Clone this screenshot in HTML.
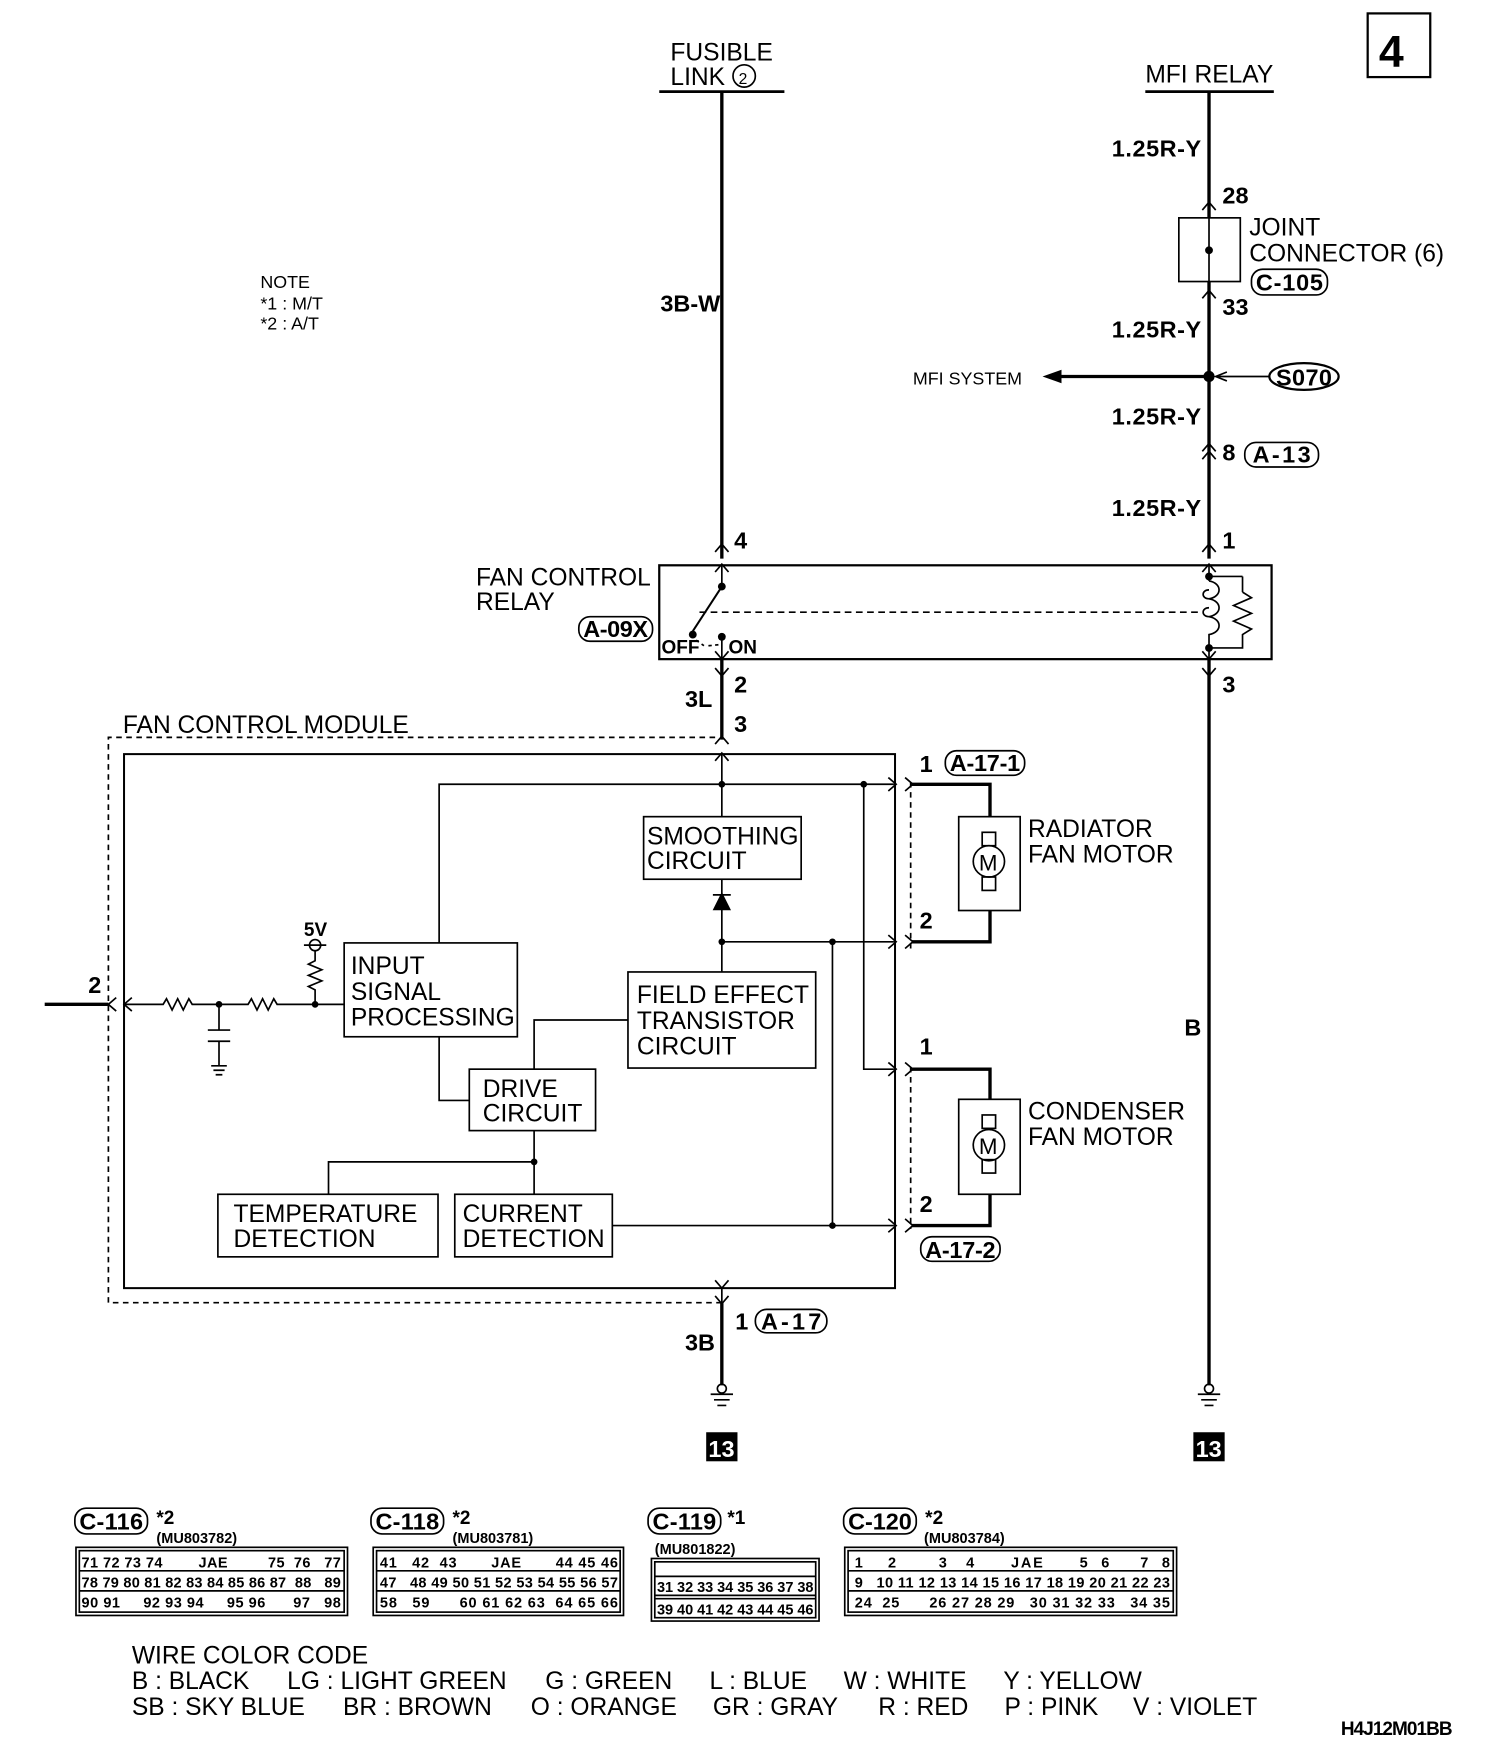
<!DOCTYPE html>
<html><head><meta charset="utf-8"><style>
html,body{margin:0;padding:0;background:#fff}
svg{display:block}
text{font-family:"Liberation Sans",sans-serif;fill:#000}
.c{font-weight:bold}
.p text{white-space:pre}
</style></head><body>
<svg width="1504" height="1754" viewBox="0 0 1346 1570" preserveAspectRatio="none" xmlns="http://www.w3.org/2000/svg">
<g fill="none" stroke="#000" stroke-width="1.5">
<rect x="1224" y="12" width="56" height="57" stroke-width="2"/>
<line x1="590" y1="82" x2="702" y2="82" stroke-width="2.5"/>
<line x1="646" y1="82" x2="646" y2="500" stroke-width="3"/>
<circle cx="666" cy="68" r="10"/>
<line x1="1025" y1="82" x2="1140" y2="82" stroke-width="2.5"/>
<line x1="1082" y1="82" x2="1082" y2="195" stroke-width="3"/>
<line x1="1082" y1="252" x2="1082" y2="500" stroke-width="3"/>
<rect x="1055" y="195" width="55" height="57"/>
<line x1="1082" y1="195" x2="1082" y2="252"/>
<rect x="1120" y="241" width="68" height="23" rx="10"/>
<line x1="940" y1="337" x2="1082" y2="337" stroke-width="3"/>
<ellipse cx="1167" cy="337" rx="31" ry="12" stroke-width="2"/>
<line x1="1136" y1="337" x2="1090" y2="337"/>
<path d="M1098 333 L1088 337 L1098 341"/>
<rect x="1114" y="396" width="66" height="22" rx="10"/>
<path d="M1076 188 L1082 181 L1088 188 M1076 267 L1082 260 L1088 267 M1076 404 L1082 397 L1088 404 M1076 411 L1082 404 L1088 411 M1076 494 L1082 487 L1088 494 M1076 512 L1082 505 L1088 512"/>
<path d="M640 494 L646 487 L652 494 M640 512 L646 505 L652 512"/>
<rect x="590" y="506" width="548" height="84" stroke-width="2"/>
<rect x="518" y="552" width="66" height="22" rx="10"/>
<line x1="646" y1="506" x2="646" y2="525"/>
<line x1="646" y1="525" x2="620" y2="565" stroke-width="1.8"/>
<line x1="626" y1="548" x2="1075" y2="548" stroke-dasharray="6,4"/>
<path d="M623 573 L630 578 M634 578 L644 577" stroke-dasharray="3,3"/>
<path d="M640 583 L646 590 L652 583 M640 598 L646 605 L652 598 M640 666 L646 659 L652 666"/>
<line x1="646" y1="570" x2="646" y2="590"/>
<line x1="646" y1="590" x2="646" y2="662" stroke-width="3"/>
<line x1="1082" y1="506" x2="1082" y2="520"/>
<line x1="1082" y1="516" x2="1112" y2="516"/><line x1="1112" y1="516" x2="1112" y2="530"/>
<path d="M1112 530 L1120 535 L1104 542 L1120 549 L1104 556 L1120 563 L1112 568 L1112 580 L1082 580"/>
<path d="M1082 520 C1094 522 1094 534 1082 536 C1075 536 1075 528 1082 528 M1082 536 C1094 538 1094 550 1082 552 C1075 552 1075 544 1082 544 M1082 552 C1094 554 1094 566 1082 568 L1082 590"/>
<path d="M1076 583 L1082 590 L1088 583 M1076 598 L1082 605 L1088 598"/>
<line x1="1082" y1="590" x2="1082" y2="1240" stroke-width="3"/>
<path d="M97 1166 L97 660 L640 660 M646 1166 L97 1166 M815 700 L815 850 M815 955 L815 1100" stroke-dasharray="5,4"/>
<rect x="111" y="675" width="690" height="478" stroke-width="1.8"/>
<rect x="576" y="731" width="141" height="56"/>
<rect x="562" y="870" width="168" height="86"/>
<rect x="308" y="844" width="155" height="84"/>
<rect x="420" y="957" width="113" height="55"/>
<rect x="195" y="1069" width="197" height="56"/>
<rect x="407" y="1069" width="141" height="56"/>
<line x1="646" y1="675" x2="646" y2="731"/>
<path d="M393 844 L393 702 L800 702"/>
<path d="M773 702 L773 957 L800 957"/>
<line x1="646" y1="787" x2="646" y2="870"/>
<path d="M646 800 L639 814 L653 814 Z M638 801 L654 801" fill="#000"/>
<path d="M646 843 L800 843"/>
<path d="M745 843 L745 1097"/>
<path d="M548 1097 L800 1097"/>
<path d="M562 913 L478 913 L478 957"/>
<path d="M393 928 L393 985 L420 985"/>
<path d="M478 1012 L478 1069 M478 1040 L294 1040 L294 1069"/>
<path d="M640 681 L646 674 L652 681 M795 696 L802 702 L795 708 M795 837 L802 843 L795 849 M795 951 L802 957 L795 963 M795 1091 L802 1097 L795 1103 M810 696 L817 702 L810 708 M810 837 L817 843 L810 849 M810 951 L817 957 L810 963 M810 1091 L817 1097 L810 1103"/>
<line x1="646" y1="1153" x2="646" y2="1166" />
<path d="M640 1146 L646 1153 L652 1146 M640 1160 L646 1167 L652 1160"/>
<line x1="646" y1="1166" x2="646" y2="1240" stroke-width="3"/>
<rect x="676" y="1172" width="64" height="21" rx="10"/>
<line x1="40" y1="899" x2="97" y2="899" stroke-width="3"/>
<path d="M104 893 L97 899 L104 905 M118 893 L111 899 L118 905"/>
<path d="M111 899 L146 899 L149 894 L154 904 L159 894 L164 904 L169 894 L172 899 L222 899 L225 894 L230 904 L235 894 L240 904 L245 894 L248 899 L308 899"/>
<path d="M196 899 L196 922 M186 922 L206 922 M186 932 L206 932 M196 932 L196 954 M189 954 L203 954 M191 958 L201 958 M193 962 L199 962"/>
<circle cx="282" cy="846" r="5"/>
<path d="M272 846 L292 846 M282 851 L282 860 L276 863 L288 868 L276 873 L288 878 L276 883 L282 886 L282 899"/>
<path d="M816 702 L886 702 L886 731 M886 815 L886 843 L816 843" stroke-width="3"/>
<rect x="858" y="731" width="55" height="84"/>
<rect x="879" y="745" width="12" height="12"/><rect x="879" y="785" width="12" height="12"/>
<circle cx="885" cy="771" r="14"/>
<rect x="846" y="672" width="71" height="22" rx="10"/>
<path d="M816 957 L886 957 L886 984 M886 1069 L886 1097 L816 1097" stroke-width="3"/>
<rect x="858" y="984" width="55" height="85"/>
<rect x="879" y="998" width="12" height="12"/><rect x="879" y="1038" width="12" height="12"/>
<circle cx="885" cy="1025" r="14"/>
<rect x="824" y="1107" width="71" height="22" rx="10"/>
<path d="M636 1248 L656 1248 M639 1253 L653 1253 M642 1258 L650 1258 M1072 1248 L1092 1248 M1075 1253 L1089 1253 M1078 1258 L1086 1258"/>
<circle cx="646" cy="1243" r="4"/><circle cx="1082" cy="1243" r="4"/>
<rect x="67" y="1350" width="65" height="23" rx="10"/>
<rect x="332" y="1350" width="65" height="23" rx="10"/>
<rect x="580" y="1350" width="65" height="23" rx="10"/>
<rect x="755" y="1350" width="65" height="23" rx="10"/>
<rect x="68" y="1385" width="243" height="61"/><rect x="71" y="1388" width="237" height="55"/>
<rect x="334" y="1385" width="224" height="61"/><rect x="337" y="1388" width="218" height="55"/>
<rect x="583" y="1395" width="150" height="56"/><rect x="586" y="1398" width="144" height="50"/>
<rect x="756" y="1385" width="297" height="61"/><rect x="759" y="1388" width="291" height="55"/>
<path d="M71 1406 L308 1406 M71 1424 L308 1424 M337 1406 L555 1406 M337 1424 L555 1424 M759 1406 L1050 1406 M759 1424 L1050 1424 M586 1411 L730 1411 M586 1428 L730 1428 M586 1431 L730 1431"/>
</g>
<g fill="#000">
<circle cx="1082" cy="224" r="3.5"/><circle cx="1082" cy="337" r="5"/>
<path d="M933 337 L950 331 L950 343 Z"/>
<circle cx="646" cy="525" r="3.5"/><circle cx="620" cy="568" r="3.5"/><circle cx="646" cy="570" r="3.5"/>
<circle cx="1082" cy="516" r="3.5"/><circle cx="1082" cy="580" r="3.5"/>
<circle cx="646" cy="702" r="3"/><circle cx="773" cy="702" r="3"/><circle cx="646" cy="843" r="3"/><circle cx="745" cy="843" r="3"/><circle cx="745" cy="1097" r="3"/><circle cx="478" cy="1040" r="3"/>
<circle cx="196" cy="899" r="3"/><circle cx="282" cy="899" r="3"/>
<rect x="632" y="1282" width="28" height="26"/><rect x="1068" y="1282" width="28" height="26"/>
</g>
<g font-size="22">
<text x="1234" y="60" font-size="40" style="font-weight:bold">4</text>
<text x="600" y="54">FUSIBLE</text><text x="600" y="76">LINK</text><text x="661" y="75" font-size="14">2</text>
<text x="1025" y="74">MFI RELAY</text>
<text x="1118" y="211">JOINT</text><text x="1118" y="234">CONNECTOR (6)</text>
<text x="426" y="524">FAN CONTROL</text><text x="426" y="546">RELAY</text>
<text x="110" y="656">FAN CONTROL MODULE</text>
<text x="579" y="756">SMOOTHING</text><text x="579" y="778">CIRCUIT</text>
<text x="570" y="898">FIELD EFFECT</text><text x="570" y="921">TRANSISTOR</text><text x="570" y="944">CIRCUIT</text>
<text x="314" y="872">INPUT</text><text x="314" y="895">SIGNAL</text><text x="314" y="918">PROCESSING</text>
<text x="432" y="982">DRIVE</text><text x="432" y="1004">CIRCUIT</text>
<text x="209" y="1094">TEMPERATURE</text><text x="209" y="1116">DETECTION</text>
<text x="414" y="1094">CURRENT</text><text x="414" y="1116">DETECTION</text>
<text x="920" y="749">RADIATOR</text><text x="920" y="772">FAN MOTOR</text>
<text x="920" y="1002">CONDENSER</text><text x="920" y="1025">FAN MOTOR</text>
<text x="118" y="1489">WIRE COLOR CODE</text>
<text x="118" y="1512">B : BLACK</text><text x="257" y="1512">LG : LIGHT GREEN</text><text x="488" y="1512">G : GREEN</text><text x="635" y="1512">L : BLUE</text><text x="755" y="1512">W : WHITE</text><text x="898" y="1512">Y : YELLOW</text>
<text x="118" y="1535">SB : SKY BLUE</text><text x="307" y="1535">BR : BROWN</text><text x="475" y="1535">O : ORANGE</text><text x="638" y="1535">GR : GRAY</text><text x="786" y="1535">R : RED</text><text x="899" y="1535">P : PINK</text><text x="1014" y="1535">V : VIOLET</text>
</g>
<g font-size="16">
<text x="233" y="258">NOTE</text><text x="233" y="277">*1 : M/T</text><text x="233" y="295">*2 : A/T</text>
<text x="817" y="344">MFI SYSTEM</text>
</g>
<g class="c" font-size="21">
<text x="591" y="279">3B-W</text>
<text x="995" y="140" textLength="80">1.25R-Y</text><text x="995" y="302" textLength="80">1.25R-Y</text>
<text x="995" y="380" textLength="80">1.25R-Y</text><text x="995" y="462" textLength="80">1.25R-Y</text>
<text x="1094" y="182">28</text><text x="1094" y="282">33</text><text x="1124" y="260" textLength="60">C-105</text>
<text x="1142" y="345" textLength="50">S070</text>
<text x="1094" y="412">8</text><text x="1121" y="414" textLength="52">A-13</text>
<text x="1094" y="491">1</text><text x="657" y="491">4</text>
<text x="522" y="570" textLength="58">A-09X</text>
<text x="592" y="585" font-size="17">OFF</text><text x="652" y="585" font-size="17">ON</text>
<text x="657" y="620">2</text><text x="613" y="633">3L</text><text x="657" y="655">3</text><text x="1094" y="620">3</text>
<text x="1060" y="927">B</text>
<text x="79" y="889">2</text><text x="272" y="838" font-size="17">5V</text>
<text x="823" y="691">1</text><text x="850" y="690" textLength="63">A-17-1</text>
<text x="823" y="831">2</text><text x="823" y="944">1</text><text x="823" y="1085">2</text>
<text x="828" y="1126" textLength="63">A-17-2</text>
<text x="658" y="1190">1</text><text x="681" y="1190" textLength="54">A-17</text><text x="613" y="1209">3B</text>
<text x="634" y="1304" style="fill:#fff">13</text><text x="1070" y="1304" style="fill:#fff">13</text>
<text x="71" y="1369" textLength="57">C-116</text><text x="336" y="1369" textLength="57">C-118</text><text x="584" y="1369" textLength="57">C-119</text><text x="759" y="1369" textLength="57">C-120</text>
<text x="140" y="1364" font-size="17">*2</text><text x="405" y="1364" font-size="17">*2</text><text x="651" y="1364" font-size="17">*1</text><text x="828" y="1364" font-size="17">*2</text>
<text x="1200" y="1553" font-size="17" textLength="100">H4J12M01BB</text>
</g>
<g class="c p" font-size="13">
<text x="140" y="1381">(MU803782)</text><text x="405" y="1381">(MU803781)</text><text x="586" y="1391">(MU801822)</text><text x="827" y="1381">(MU803784)</text>
<text x="73" y="1403" textLength="232">71 72 73 74        JAE         75  76   77</text>
<text x="73" y="1421" textLength="232">78 79 80 81 82 83 84 85 86 87  88   89</text>
<text x="73" y="1439" textLength="232">90 91     92 93 94     95 96      97   98</text>
<text x="340" y="1403" textLength="213">41   42  43       JAE       44 45 46</text>
<text x="340" y="1421" textLength="213">47   48 49 50 51 52 53 54 55 56 57</text>
<text x="340" y="1439" textLength="213">58   59      60 61 62 63  64 65 66</text>
<text x="588" y="1425" textLength="140">31 32 33 34 35 36 37 38</text>
<text x="588" y="1445" textLength="140">39 40 41 42 43 44 45 46</text>
<text x="765" y="1403" textLength="282">1    2       3   4      JAE      5  6     7  8</text>
<text x="765" y="1421" textLength="282">9   10 11 12 13 14 15 16 17 18 19 20 21 22 23</text>
<text x="765" y="1439" textLength="282">24  25      26 27 28 29   30 31 32 33   34 35</text>
</g>
<g font-size="20"><text x="876" y="779">M</text><text x="876" y="1033">M</text></g>
</svg>
</body></html>
